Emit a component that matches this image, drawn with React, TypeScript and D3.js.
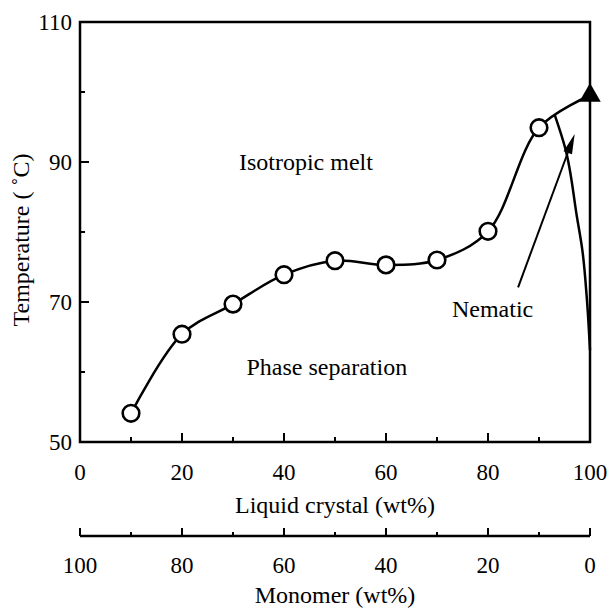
import React from "react";
import * as d3 from "d3";

const W = 609;
const H = 608;

// Data
const lcContent = [10, 20, 30, 40, 50, 60, 70, 80, 90];
const temperature = [54.1, 65.4, 69.7, 73.9, 75.9, 75.3, 76.0, 80.1, 94.9];
const pureLC = { x: 100, t: 99.5 };
const nematicX = [93.1, 95.1, 97.45, 98.5, 99.4, 100];
const nematicT = [96.7, 92.1, 82.1, 77.4, 70.3, 63.1];
const arrowFrom = { x: 85.9, t: 72.1 };
const arrowTo = { x: 97.0, t: 94.0 };

const xTicksMajor = [0, 20, 40, 60, 80, 100];
const xTicksMinor = [10, 30, 50, 70, 90];
const yTicksMajor = [50, 70, 90, 110];
const yTicksMinor = [60, 80, 100];
const monomerLabels = ["100", "80", "60", "40", "20", "0"];

const annotations = [
  { text: "Isotropic melt", x: 44.3, t: 88.9 },
  { text: "Phase separation", x: 48.4, t: 59.6 },
  { text: "Nematic", x: 80.9, t: 67.9 },
];

const FONT = "'Liberation Serif', 'Times New Roman', serif";

export default function App() {
  const x = d3.scaleLinear().domain([0, 100]).range([80, 590]);
  const y = d3.scaleLinear().domain([50, 110]).range([442, 22]);
  const y2 = 536;

  const pts: [number, number][] = lcContent.map((v, i) => [x(v), y(temperature[i])]);
  pts.push([x(pureLC.x), y(pureLC.t)]);
  const line = d3.line().curve(d3.curveCatmullRom.alpha(0.5));
  const curvePath = line(pts) || "";

  const nemPts: [number, number][] = nematicX.map((v, i) => [x(v), y(nematicT[i])]);
  const nemPath = d3.line().curve(d3.curveMonotoneY)(nemPts) || "";

  const tri = d3.symbol().type(d3.symbolTriangle).size(200)() || "";

  const ax = x(arrowFrom.x), ay = y(arrowFrom.t);
  const bx = x(arrowTo.x), by = y(arrowTo.t);
  const ang = Math.atan2(by - ay, bx - ax);
  const hl = 20, hw = 4.5;
  const baseX = bx - hl * Math.cos(ang), baseY = by - hl * Math.sin(ang);
  const head = `M${bx},${by}L${baseX + hw * Math.sin(ang)},${baseY - hw * Math.cos(ang)}L${baseX - hw * Math.sin(ang)},${baseY + hw * Math.cos(ang)}Z`;

  const sw = 2.5;

  return (
    <svg width={W} height={H} style={{ position: "absolute", left: 0, top: 0, background: "#fff" }}>
      <rect x={0} y={0} width={W} height={H} fill="#fff" />
      {/* frame */}
      <rect x={x(0)} y={y(110)} width={x(100) - x(0)} height={y(50) - y(110)} fill="none" stroke="#000" strokeWidth={sw} />
      {/* x ticks */}
      {xTicksMajor.map((v) => (
        <line key={"xm" + v} x1={x(v)} x2={x(v)} y1={y(50)} y2={y(50) - 9} stroke="#000" strokeWidth={2} />
      ))}
      {xTicksMinor.map((v) => (
        <line key={"xn" + v} x1={x(v)} x2={x(v)} y1={y(50)} y2={y(50) - 5} stroke="#000" strokeWidth={2} />
      ))}
      {xTicksMajor.map((v) => (
        <text key={"xl" + v} x={x(v)} y={480} textAnchor="middle" fontFamily={FONT} fontSize={23}>{v}</text>
      ))}
      {/* y ticks */}
      {yTicksMajor.map((v) => (
        <line key={"ym" + v} x1={x(0)} x2={x(0) + 9} y1={y(v)} y2={y(v)} stroke="#000" strokeWidth={2} />
      ))}
      {yTicksMinor.map((v) => (
        <line key={"yn" + v} x1={x(0)} x2={x(0) + 5} y1={y(v)} y2={y(v)} stroke="#000" strokeWidth={2} />
      ))}
      {yTicksMajor.map((v) => (
        <text key={"yl" + v} x={72} y={y(v) + 8} textAnchor="end" fontFamily={FONT} fontSize={23}>{v}</text>
      ))}
      <text transform={`translate(29,${240}) rotate(-90)`} textAnchor="middle" fontFamily={FONT} fontSize={24}>Temperature ( ˚C)</text>
      <text x={(x(0) + x(100)) / 2} y={513} textAnchor="middle" fontFamily={FONT} fontSize={24}>Liquid crystal (wt%)</text>
      {/* monomer axis */}
      <line x1={x(0)} x2={x(100)} y1={y2} y2={y2} stroke="#000" strokeWidth={sw} />
      {xTicksMajor.map((v) => (
        <line key={"m2" + v} x1={x(v)} x2={x(v)} y1={y2} y2={y2 - 8} stroke="#000" strokeWidth={2} />
      ))}
      {xTicksMinor.map((v) => (
        <line key={"n2" + v} x1={x(v)} x2={x(v)} y1={y2} y2={y2 - 4} stroke="#000" strokeWidth={2} />
      ))}
      {xTicksMajor.map((v, i) => (
        <text key={"ml" + v} x={x(v)} y={573} textAnchor="middle" fontFamily={FONT} fontSize={23}>{monomerLabels[i]}</text>
      ))}
      <text x={(x(0) + x(100)) / 2} y={603} textAnchor="middle" fontFamily={FONT} fontSize={24}>Monomer (wt%)</text>
      {/* curves */}
      <path d={curvePath} fill="none" stroke="#000" strokeWidth={sw} />
      <path d={nemPath} fill="none" stroke="#000" strokeWidth={sw} />
      <line x1={ax} y1={ay} x2={baseX} y2={baseY} stroke="#000" strokeWidth={2} />
      <path d={head} fill="#000" />
      {lcContent.map((v, i) => (
        <circle key={"c" + v} cx={x(v)} cy={y(temperature[i])} r={8.3} fill="#fff" stroke="#000" strokeWidth={2.6} />
      ))}
      <path d={tri} transform={`translate(${x(pureLC.x)},${y(pureLC.t)})`} fill="#000" />
      {annotations.map((a) => (
        <text key={a.text} x={x(a.x)} y={y(a.t)} textAnchor="middle" fontFamily={FONT} fontSize={24}>{a.text}</text>
      ))}
    </svg>
  );
}
